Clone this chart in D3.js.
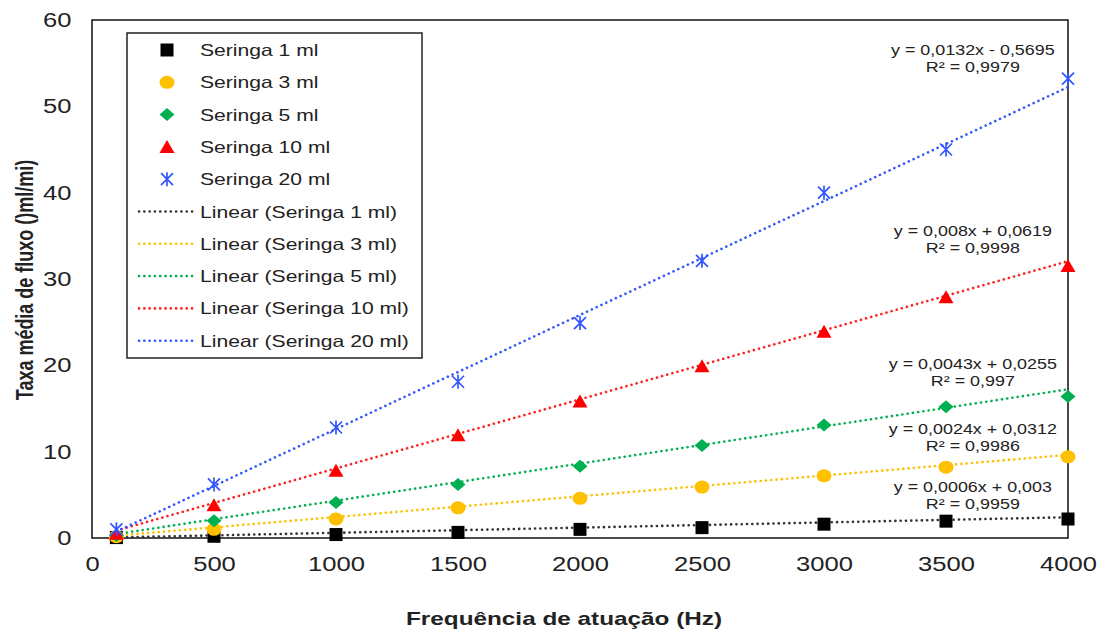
<!DOCTYPE html>
<html>
<head>
<meta charset="utf-8">
<script src="https://cdn.jsdelivr.net/npm/d3@7"></script>
<style>
  body { margin: 0; background: #fff; }
  text { font-family: "Liberation Sans", Arial, sans-serif; fill: #222; }
</style>
</head>
<body>
<div id="chart"></div>
<script>
var svgWidth = 1106;
var svgHeight = 632;

var margin = { top: 20, right: 38, bottom: 94, left: 92 };
var width = svgWidth - margin.left - margin.right;
var height = svgHeight - margin.top - margin.bottom;

// the source picture is stretched sideways, so text is widened to match
var stretch = 1.28;

// data
var freqs = [100, 500, 1000, 1500, 2000, 2500, 3000, 3500, 4000];
var seringa1 = [0.05, 0.2, 0.4, 0.65, 1.0, 1.2, 1.6, 1.95, 2.2];
var seringa3 = [0.15, 1.0, 2.2, 3.5, 4.6, 5.9, 7.2, 8.2, 9.4];
var seringa5 = [0.3, 2.0, 4.1, 6.2, 8.3, 10.7, 13.1, 15.2, 16.4];
var seringa10 = [0.5, 3.8, 7.8, 11.9, 15.8, 19.9, 23.9, 27.9, 31.5];
var seringa20 = [1.0, 6.2, 12.8, 18.1, 24.9, 32.1, 40.0, 45.0, 53.2];

var seriesNames = ["Seringa 1 ml", "Seringa 3 ml", "Seringa 5 ml", "Seringa 10 ml", "Seringa 20 ml"];
var slopes = [0.0006, 0.0024, 0.0043, 0.008, 0.0132];
var intercepts = [0.003, 0.0312, 0.0255, 0.0619, -0.5695];
var eqLabels = ["y = 0,0006x + 0,003", "y = 0,0024x + 0,0312", "y = 0,0043x + 0,0255", "y = 0,008x + 0,0619", "y = 0,0132x - 0,5695"];
var r2Labels = ["R² = 0,9959", "R² = 0,9986", "R² = 0,997", "R² = 0,9998", "R² = 0,9979"];
var xTicks = [0, 500, 1000, 1500, 2000, 2500, 3000, 3500, 4000];
var yTicks = [0, 10, 20, 30, 40, 50, 60];

var allValues = [seringa1, seringa3, seringa5, seringa10, seringa20];
var markerColors = ["#000000", "#FFC000", "#00B050", "#FF0000", "#3355FF"];
var lineColors = ["#333333", "#FFC000", "#00B050", "#FF2020", "#3355FF"];
var markerShapes = ["square", "circle", "diamond", "triangle", "asterisk"];
// where each equation label sits (data coords of the first line's baseline)
var eqPos = [[3610, 5.3], [3610, 12.1], [3610, 19.6], [3610, 35.0], [3610, 56.0]];

var svg = d3.select("#chart")
  .append("svg")
  .attr("width", svgWidth)
  .attr("height", svgHeight);

var chartGroup = svg.append("g")
  .attr("transform", `translate(${margin.left}, ${margin.top})`);

var xScale = d3.scaleLinear().domain([0, 4000]).range([0, width]);
var yScale = d3.scaleLinear().domain([0, 60]).range([height, 0]);

// helper: widened text at (x, y)
function wideText(parent, x, y, str, size, anchor) {
  return parent.append("text")
    .attr("transform", `translate(${x}, ${y}) scale(${stretch}, 1)`)
    .attr("text-anchor", anchor || "start")
    .attr("font-size", size)
    .text(str);
}

// frame
chartGroup.append("rect")
  .attr("x", 0).attr("y", 0)
  .attr("width", width).attr("height", height)
  .attr("fill", "none")
  .attr("stroke", "#111")
  .attr("stroke-width", 1.5);

// axes (labels only, no tick lines)
var bottomAxis = d3.axisBottom(xScale).tickValues(xTicks).tickFormat(d3.format("d")).tickSize(0).tickPadding(19);
var leftAxis = d3.axisLeft(yScale).tickValues(yTicks).tickFormat(d3.format("d")).tickSize(0).tickPadding(16);

var xAxis = chartGroup.append("g")
  .attr("transform", `translate(0, ${height})`)
  .call(bottomAxis);
var yAxis = chartGroup.append("g").call(leftAxis);

[xAxis, yAxis].forEach(function (ax) {
  ax.select(".domain").remove();
  ax.selectAll("text")
    .attr("font-family", "Liberation Sans, Arial, sans-serif")
    .attr("font-size", 20)
    .attr("fill", "#222")
    .attr("transform", `scale(${stretch}, 1)`);
});

// trend lines
allValues.forEach(function (vals, i) {
  var x0 = freqs[0], x1 = freqs[freqs.length - 1];
  chartGroup.append("line")
    .attr("x1", xScale(x0)).attr("y1", yScale(slopes[i] * x0 + intercepts[i]))
    .attr("x2", xScale(x1)).attr("y2", yScale(slopes[i] * x1 + intercepts[i]))
    .attr("stroke", lineColors[i])
    .attr("stroke-width", 2.6)
    .attr("stroke-linecap", "round")
    .attr("stroke-dasharray", "0.1,5.2");
});

function drawMarker(g, shape, color, cx, cy) {
  if (shape === "square") {
    g.append("rect").attr("x", cx - 6.5).attr("y", cy - 6.5).attr("width", 13).attr("height", 13).attr("fill", color);
  } else if (shape === "circle") {
    g.append("ellipse").attr("cx", cx).attr("cy", cy).attr("rx", 7.5).attr("ry", 6.5).attr("fill", color);
  } else if (shape === "diamond") {
    g.append("path").attr("d", `M${cx},${cy - 6.5}L${cx + 7.5},${cy}L${cx},${cy + 6.5}L${cx - 7.5},${cy}Z`).attr("fill", color);
  } else if (shape === "triangle") {
    g.append("path").attr("d", `M${cx},${cy - 7}L${cx + 7.5},${cy + 6}L${cx - 7.5},${cy + 6}Z`).attr("fill", color);
  } else {
    var s = 6;
    g.append("path")
      .attr("d", `M${cx - s},${cy - s}L${cx + s},${cy + s}M${cx - s},${cy + s}L${cx + s},${cy - s}M${cx},${cy - s - 1}L${cx},${cy + s + 1}`)
      .attr("stroke", color).attr("stroke-width", 1.7).attr("fill", "none");
  }
}

// points
allValues.forEach(function (vals, i) {
  var g = chartGroup.append("g");
  vals.forEach(function (v, j) {
    drawMarker(g, markerShapes[i], markerColors[i], xScale(freqs[j]), yScale(v));
  });
});

// equation labels
eqLabels.forEach(function (lab, i) {
  var tx = xScale(eqPos[i][0]);
  var ty = yScale(eqPos[i][1]);
  wideText(chartGroup, tx, ty, lab, 14, "middle").attr("fill", "#333");
  wideText(chartGroup, tx, ty + 17, r2Labels[i], 14, "middle").attr("fill", "#333");
});

// legend
var legend = svg.append("g").attr("transform", "translate(127, 33)");
legend.append("rect")
  .attr("width", 295).attr("height", 325)
  .attr("fill", "#fff")
  .attr("stroke", "#222")
  .attr("stroke-width", 1.5);

var rowH = 32.3;
seriesNames.forEach(function (name, i) {
  var y = 17 + i * rowH;
  drawMarker(legend, markerShapes[i], markerColors[i], 40, y);
  wideText(legend, 73, y + 6, name, 16.5);
});
seriesNames.forEach(function (name, i) {
  var y = 17 + (i + 5) * rowH;
  legend.append("line")
    .attr("x1", 12).attr("x2", 66).attr("y1", y).attr("y2", y)
    .attr("stroke", lineColors[i])
    .attr("stroke-width", 2.6)
    .attr("stroke-linecap", "round")
    .attr("stroke-dasharray", "0.1,5.2");
  wideText(legend, 73, y + 6, "Linear (" + name + ")", 16.5);
});

// axis titles
wideText(svg, 564, 625, "Frequência de atuação (Hz)", 19, "middle")
  .attr("font-weight", "bold");

svg.append("text")
  .attr("transform", `translate(33, 280) scale(${stretch}, 1) rotate(-90)`)
  .attr("text-anchor", "middle")
  .attr("font-size", 18)
  .attr("font-weight", "bold")
  .text("Taxa média de fluxo ()ml/mi)");
</script>
</body>
</html>
